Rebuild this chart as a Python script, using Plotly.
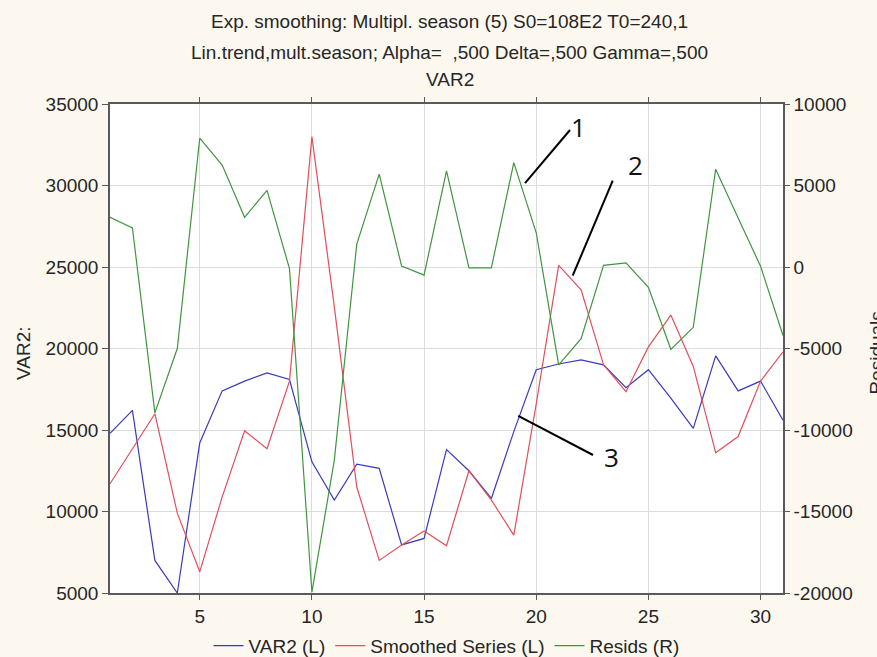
import plotly.graph_objects as go

# ---- data ----
x_vals = list(range(1, 32))
var2 = [14800, 16200, 7000, 5000, 14200, 17400, 18000, 18500, 18100, 13050,
        10700, 12900, 12650, 7950, 8350, 13800, 12500, 10800, 14900, 18700,
        19050, 19300, 19000, 17600, 18700, 16950, 15100, 19550, 17400, 18000, 15600]
smoothed = [11700, 13850, 16000, 9900, 6300, 10900, 14950, 13850, 18000, 33000,
            22550, 11500, 7000, 7950, 8800, 7900, 12500, 10700, 8550, 16600,
            25100, 23600, 19000, 17350, 20100, 22050, 18900, 13600, 14600, 18000, 19800]
resids = [3050, 2400, -8950, -5000, 7900, 6250, 3050, 4700, -100, -19950,
          -11850, 1400, 5700, 50, -500, 5900, -50, -50, 6400, 2100,
          -6000, -4400, 100, 250, -1250, -5050, -3700, 6000, 3000, 50, -4200]

x_ticks = [5, 10, 15, 20, 25, 30]
left_ticks = [5000, 10000, 15000, 20000, 25000, 30000, 35000]
left_labels = ["5000", "10000", "15000", "20000", "25000", "30000", "35000"]
right_ticks = [-20000, -15000, -10000, -5000, 0, 5000, 10000]
right_labels = ["-20000", "-15000", "-10000", "-5000", "0", "5000", "10000"]

title_lines = ["Exp. smoothing: Multipl. season (5) S0=108E2 T0=240,1",
               "Lin.trend,mult.season; Alpha=  ,500 Delta=,500 Gamma=,500",
               "VAR2"]

FONT = "Liberation Sans, Arial, sans-serif"
TXT = "#262626"
BG = "#fcf8ef"
BLUE = "#3b3bb8"
RED = "#e04f5c"
GREEN = "#419541"
GRID = "#dcdcdc"
FRAME = "#5a5a5a"

fig = go.Figure()
fig.add_trace(go.Scatter(x=x_vals, y=var2, mode="lines", name="VAR2 (L)",
                         line=dict(color=BLUE, width=1.2)))
fig.add_trace(go.Scatter(x=x_vals, y=smoothed, mode="lines", name="Smoothed Series (L)",
                         line=dict(color=RED, width=1.2)))
fig.add_trace(go.Scatter(x=x_vals, y=resids, mode="lines", name="Resids (R)",
                         yaxis="y2", line=dict(color=GREEN, width=1.2)))

annotations = []
for txt, yp in zip(title_lines, [1.1677, 1.1063, 1.0491]):
    annotations.append(dict(text=txt, x=0.505, y=yp, xref="paper", yref="paper",
                            showarrow=False, xanchor="center", yanchor="middle",
                            font=dict(family=FONT, size=19, color=TXT)))
annotations.append(dict(text="VAR2:", x=-0.1285, y=0.49, xref="paper", yref="paper",
                        showarrow=False, textangle=-90, xanchor="center", yanchor="middle",
                        font=dict(family=FONT, size=19, color=TXT)))
annotations.append(dict(text="Residuals", x=1.1385, y=0.49, xref="paper", yref="paper",
                        showarrow=False, textangle=-90, xanchor="center", yanchor="middle",
                        font=dict(family=FONT, size=19, color=TXT)))
# callout labels
for lab, lx, ly in [("1", 0.6954, 0.952), ("2", 0.7809, 0.8753), ("3", 0.7452, 0.2781)]:
    annotations.append(dict(text=lab, x=lx, y=ly, xref="paper", yref="paper",
                            showarrow=False, xanchor="center", yanchor="middle",
                            font=dict(family="Open Sans, sans-serif", size=26, color="#111111")))

shapes = []
for (x0, y0, x1, y1) in [(0.6167, 0.8384, 0.6835, 0.9468),
                         (0.6875, 0.6489, 0.7470, 0.8431),
                         (0.6066, 0.3620, 0.7177, 0.2822)]:
    shapes.append(dict(type="line", xref="paper", yref="paper", x0=x0, y0=y0, x1=x1, y1=y1,
                       line=dict(color="black", width=2)))

fig.update_layout(
    width=877, height=657, autosize=False,
    margin=dict(l=110, r=94, t=104, b=64, autoexpand=False),
    paper_bgcolor=BG, plot_bgcolor="white",
    font=dict(family=FONT, size=19, color=TXT),
    showlegend=True,
    legend=dict(orientation="h", x=0.5, xanchor="center", y=-0.108, yanchor="middle",
                font=dict(family=FONT, size=19, color=TXT), bgcolor="rgba(0,0,0,0)"),
    xaxis=dict(range=[1, 31], tickvals=x_ticks, showgrid=True, gridcolor=GRID, gridwidth=1,
               showline=True, linecolor=FRAME, linewidth=1.5, mirror="ticks",
               ticks="outside", ticklen=5, tickcolor=FRAME, zeroline=False, automargin=False,
               tickfont=dict(family=FONT, size=19, color=TXT)),
    yaxis=dict(range=[5000, 35000], tickvals=left_ticks, ticktext=left_labels, showgrid=True,
               gridcolor=GRID, gridwidth=1, showline=True, linecolor=FRAME, linewidth=1.5,
               ticks="outside", ticklen=6, tickcolor=FRAME, zeroline=False, automargin=False,
               tickfont=dict(family=FONT, size=19, color=TXT)),
    yaxis2=dict(range=[-20000, 10000], tickvals=right_ticks, ticktext=right_labels,
                overlaying="y", side="right",
                showgrid=False, showline=True, linecolor=FRAME, linewidth=1.5,
                ticks="outside", ticklen=5, tickcolor=FRAME, zeroline=False, automargin=False,
                tickfont=dict(family=FONT, size=19, color=TXT)),
    annotations=annotations,
    shapes=shapes,
)

fig.write_html("out.html", config={"displayModeBar": False},
               post_script="document.body.style.margin='0';document.body.style.background='%s';" % BG)
